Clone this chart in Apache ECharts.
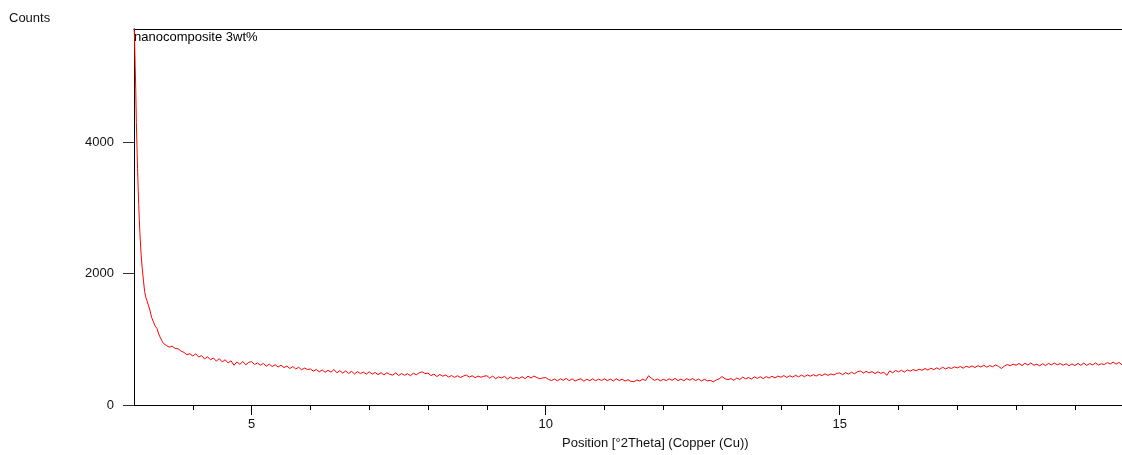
<!DOCTYPE html>
<html>
<head>
<meta charset="utf-8">
<script src="https://cdn.jsdelivr.net/npm/echarts@6/dist/echarts.min.js"></script>
<style>
html,body{margin:0;padding:0;background:#fff;}
#chart{width:1122px;height:455px;}
</style>
</head>
<body>
<div id="chart"></div>
<script>
// ---- data ----
const seriesName = "nanocomposite 3wt%";
const yTicks = [0, 2000, 4000];
const xLabelTicks = [5, 10, 15];
const xMinorTicks = [4, 5, 6, 7, 8, 9, 10, 11, 12, 13, 14, 15, 16, 17, 18, 19];

// steep low-angle part (position in °2Theta, counts)
const headPos = [3.00, 3.01, 3.02, 3.03, 3.04, 3.05, 3.06, 3.07, 3.08, 3.09, 3.10, 3.12, 3.14, 3.16, 3.18, 3.20, 3.22, 3.24, 3.27, 3.30, 3.33, 3.36, 3.39, 3.42, 3.45, 3.48, 3.50];
const headCounts = [5800, 5550, 5150, 4800, 4300, 3950, 3600, 3320, 3050, 2820, 2620, 2300, 2080, 1900, 1730, 1640, 1590, 1530, 1445, 1330, 1267, 1200, 1166, 1080, 1020, 970, 938];

// remaining scan, regular step
const tailStart = 3.55;
const tailStep = 0.05;
const tailCounts = [
  905, 880, 895, 860, 855, 820, 800, 765, 780,
  745, 778, 730, 752, 700, 735, 688, 715, 668, 705, 655, 688, 640, 672, 605, 655, 618, 662, 612, 648,
  660, 615, 640, 605, 632, 590, 622, 585, 612, 578, 606, 570, 592, 555, 585, 548, 575, 535, 562, 540,
  548, 515, 540, 505, 532, 498, 528, 500, 540, 490, 522, 485, 518, 480, 512, 472, 508, 478, 500, 470,
  505, 470, 495, 462, 492, 458, 490, 465, 455, 488, 448, 478, 452, 475, 445, 485, 460, 490, 505, 478,
  485, 448, 470, 432, 465, 438, 455, 425, 448, 420, 445, 418, 440, 455, 425, 445, 415, 440, 422, 438,
  445, 408, 440, 400, 428, 412, 435, 395, 425, 398, 420, 405, 430, 402, 438, 410, 440, 418, 400, 412,
  418, 388, 372, 395, 368, 398, 375, 405, 370, 398, 365, 385, 400, 362, 392, 370, 398, 368, 395, 372,
  398, 370, 395, 365, 400, 372, 392, 365, 385, 358, 355, 380, 365, 392, 372, 445, 405, 375, 395, 368,
  390, 372, 398, 375, 405, 370, 395, 368, 400, 378, 402, 372, 395, 365, 392, 368, 375, 352, 380, 398,
  432, 400, 385, 402, 375, 410, 388, 425, 398, 418, 395, 428, 405, 430, 400, 432, 410, 438, 412, 440,
  422, 448, 418, 445, 425, 452, 428, 455, 430, 458, 438, 462, 440, 465, 448, 475, 450, 472, 458, 480,
  488, 462, 492, 470, 498, 475, 505, 518, 485, 512, 488, 508, 478, 505, 482, 498, 450, 520, 490, 525,
  505, 528, 500, 535, 515, 540, 520, 545, 528, 555, 532, 560, 538, 565, 542, 575, 548, 572, 555, 580,
  565, 585, 560, 590, 572, 595, 570, 598, 578, 605, 575, 600, 582, 610, 588, 555, 592, 615, 598, 620,
  605, 632, 600, 635, 608, 640, 605, 620, 598, 628, 600, 632, 610, 638, 612, 630, 605, 628, 598, 625,
  600, 632, 605, 638, 602, 630, 610, 640, 608, 628, 615, 645, 625, 652, 622, 648, 610
];

const xMin = 3.0, xMax = 19.8, yMin = 0, yMax = 5720;

// ---- build series ----
const data = [];
for (let i = 0; i < headPos.length; i++) data.push([headPos[i], headCounts[i]]);
for (let i = 0; i < tailCounts.length; i++) {
  data.push([+(tailStart + i * tailStep).toFixed(2), tailCounts[i]]);
}

const FONT = '"Liberation Sans", Arial, sans-serif';
const chart = echarts.init(document.getElementById('chart'), null, {renderer: 'canvas'});
chart.setOption({
  animation: false,
  backgroundColor: '#fff',
  grid: {left: 134, right: 0, top: 29, bottom: 50, containLabel: false},
  xAxis: [
    {
      type: 'value', min: xMin, max: xMax, position: 'bottom',
      axisLine: {show: true, lineStyle: {color: '#000', width: 1}},
      axisTick: {show: true, customValues: xMinorTicks, length: 5, lineStyle: {color: '#000'}},
      axisLabel: {show: true, customValues: xLabelTicks, margin: 13, color: '#111', fontSize: 13, fontFamily: FONT,
                  formatter: v => String(v)},
      splitLine: {show: false}
    },
    {
      type: 'value', min: xMin, max: xMax, position: 'bottom',
      axisLine: {show: false},
      axisTick: {show: true, customValues: xLabelTicks, length: 10, lineStyle: {color: '#000'}},
      axisLabel: {show: false},
      splitLine: {show: false}
    },
    {
      type: 'value', min: xMin, max: xMax, position: 'top',
      axisLine: {show: true, lineStyle: {color: '#000', width: 1}},
      axisTick: {show: false},
      axisLabel: {show: false},
      splitLine: {show: false}
    }
  ],
  yAxis: {
    type: 'value', min: yMin, max: yMax, position: 'left',
    axisLine: {show: true, lineStyle: {color: '#000', width: 1}},
    axisTick: {show: true, customValues: yTicks, length: 11, lineStyle: {color: '#333'}},
    axisLabel: {show: true, customValues: yTicks, margin: 20, color: '#111', fontSize: 13, fontFamily: FONT,
                formatter: v => String(v)},
    splitLine: {show: false}
  },
  graphic: [
    {type: 'text', left: 9, top: 12, style: {text: 'Counts', fill: '#111', font: '13px ' + FONT}},
    {type: 'text', left: 134, top: 31, style: {text: seriesName, fill: '#000', font: '13px ' + FONT}},
    {type: 'text', left: 562, top: 437, style: {text: 'Position [°2Theta] (Copper (Cu))', fill: '#111', font: '13px ' + FONT}}
  ],
  series: [{
    name: seriesName,
    type: 'line',
    xAxisIndex: 0,
    data: data,
    showSymbol: false,
    symbol: 'none',
    clip: true,
    lineStyle: {color: '#ff0000', width: 1},
    emphasis: {disabled: true}
  }]
});
</script>
</body>
</html>
